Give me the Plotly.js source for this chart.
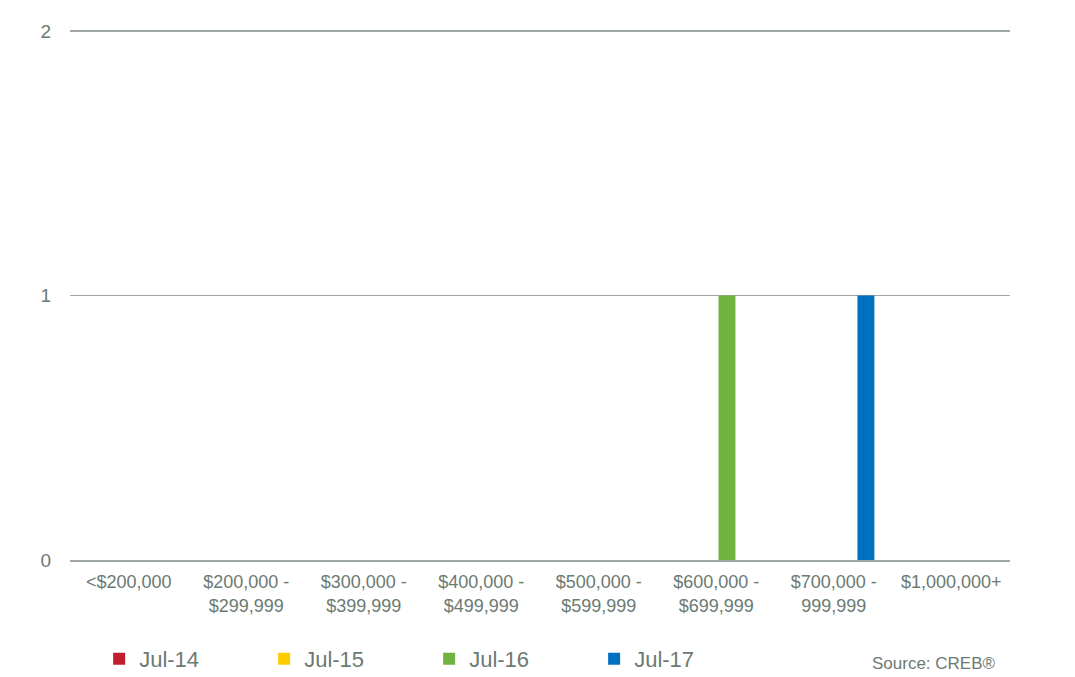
<!DOCTYPE html>
<html>
<head>
<meta charset="utf-8">
<script src="https://cdn.plot.ly/plotly-3.0.1.min.js"></script>
<style>html,body{margin:0;padding:0;background:#fff;}#chart{width:1075px;height:677px;}</style>
</head>
<body>
<div id="chart"></div>
<script>
var categories = ["&lt;$200,000", "$200,000 -<br>$299,999", "$300,000 -<br>$399,999", "$400,000 -<br>$499,999", "$500,000 -<br>$599,999", "$600,000 -<br>$699,999", "$700,000 -<br>999,999", "$1,000,000+"];
var seriesNames = ["Jul-14", "Jul-15", "Jul-16", "Jul-17"];
var jul14 = [0, 0, 0, 0, 0, 0, 0, 0];
var jul15 = [0, 0, 0, 0, 0, 0, 0, 0];
var jul16 = [0, 0, 0, 0, 0, 1, 0, 0];
var jul17 = [0, 0, 0, 0, 0, 0, 1, 0];
var yTicks = [0, 1, 2];

var colors = ["#be1e2d", "#ffcc00", "#70b340", "#0070c0"];
var values = [jul14, jul15, jul16, jul17];
var textColor = "#6b7a72";
var gridColor = "#a0a8a4";

var data = values.map(function (v, i) {
  return {
    type: "bar",
    name: seriesNames[i],
    x: categories,
    y: v,
    marker: {color: colors[i]},
    hoverinfo: "x+y+name"
  };
});

var layout = {
  width: 1075,
  height: 677,
  margin: {l: 70, r: 65, t: 30, b: 117, autoexpand: false},
  paper_bgcolor: "#ffffff",
  plot_bgcolor: "#ffffff",
  font: {family: "Liberation Sans, Arial, sans-serif", size: 18, color: textColor},
  barmode: "group",
  bargap: 0.27,
  bargroupgap: 0.21,
  showlegend: true,
  legend: {
    orientation: "h",
    x: 0.031,
    xanchor: "left",
    y: -0.147,
    yanchor: "top",
    entrywidth: 120,
    entrywidthmode: "pixels",
    traceorder: "normal",
    font: {size: 22, color: textColor},
    itemclick: false
  },
  xaxis: {
    type: "category",
    showgrid: false,
    showline: true,
    linecolor: gridColor,
    linewidth: 1.6,
    ticks: "",
    tickfont: {size: 18, color: textColor},
    ticklabelstandoff: 5,
    automargin: false,
    fixedrange: true
  },
  yaxis: {
    range: [0, 2.004],
    tickvals: yTicks,
    ticktext: yTicks.map(String),
    showgrid: true,
    gridcolor: gridColor,
    gridwidth: 1.6,
    zeroline: false,
    showline: false,
    ticks: "",
    tickfont: {size: 19, color: textColor},
    ticklabelstandoff: 18,
    automargin: false,
    fixedrange: true
  },
  annotations: [{
    text: "Source: CREB®",
    xref: "paper",
    yref: "paper",
    x: 0.987,
    y: -0.196,
    xanchor: "right",
    yanchor: "middle",
    showarrow: false,
    font: {size: 17, color: textColor}
  }]
};

Plotly.newPlot("chart", data, layout, {displayModeBar: false, staticPlot: true});
</script>
</body>
</html>
